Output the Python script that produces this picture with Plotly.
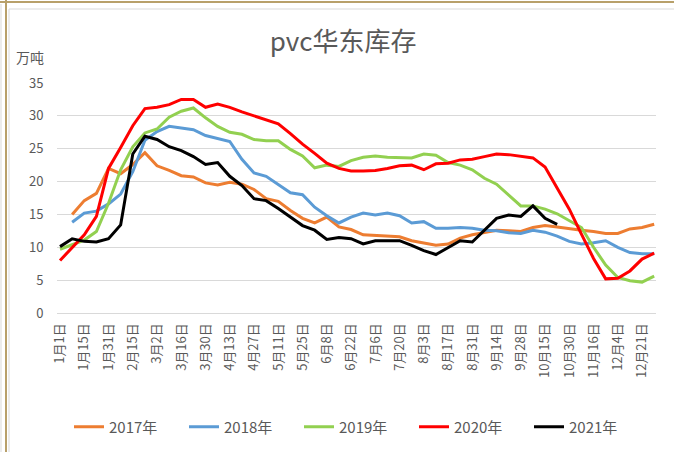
import plotly.graph_objects as go

tick_labels = ["1月1日", "1月15日", "1月31日", "2月15日", "3月2日", "3月16日", "3月30日",
               "4月13日", "4月27日", "5月11日", "5月25日", "6月8日", "6月22日", "7月6日",
               "7月20日", "8月3日", "8月17日", "8月31日", "9月14日", "9月28日", "10月15日",
               "10月30日", "11月16日", "12月4日", "12月21日"]

y2017 = [None, 15.0, 17.1, 18.2, 22.0, 21.2, 22.6, 24.4, 22.4, 21.7,
         20.9, 20.7, 19.8, 19.5, 19.9, 19.6, 18.8, 17.4, 17.0, 15.6,
         14.4, 13.7, 14.6, 13.1, 12.7, 11.9, 11.8, 11.8, 11.6, 11.0,
         10.7, 10.3, 10.5, 11.4, 11.9, 12.3, 12.6, 12.5, 12.4, 13.0,
         13.3, 13.1, 12.8, 12.6, 12.4, 12.1, 12.1, 12.8, 13.0, 13.5]
y2018 = [None, 13.8, 15.2, 15.5, 16.6, 18.1, 21.5, 26.3, 27.6, 28.4,
         28.2, 27.9, 27.0, 26.5, 26.1, 23.4, 21.3, 20.8, 19.5, 18.3,
         18.0, 16.1, 14.8, 13.7, 14.6, 15.2, 14.9, 15.2, 14.8, 13.7,
         13.9, 12.9, 12.9, 13.0, 12.9, 12.6, 12.5, 12.2, 12.1, 12.6,
         12.3, 11.7, 10.9, 10.5, 10.7, 11.0, 10.0, 9.2, 9.0, 9.0]
y2019 = [9.7, 10.4, 11.1, 12.4, 16.7, 21.8, 25.3, 27.4, 28.0, 29.8,
         30.7, 31.2, 29.7, 28.4, 27.5, 27.2, 26.4, 26.2, 26.2, 24.9,
         23.9, 22.1, 22.5, 22.3, 23.2, 23.7, 23.9, 23.7, 23.6, 23.6,
         24.2, 24.0, 22.9, 22.5, 21.8, 20.5, 19.6, 18.0, 16.3, 16.3,
         15.8, 15.1, 14.1, 13.0, 10.0, 7.3, 5.4, 4.9, 4.7, 5.6]
y2020 = [8.0, 10.0, 11.9, 14.7, 22.0, 25.2, 28.5, 31.1, 31.3, 31.7,
         32.5, 32.5, 31.3, 31.8, 31.3, 30.6, 30.0, 29.5, 28.8, 27.3,
         25.7, 24.3, 22.8, 22.0, 21.6, 21.6, 21.7, 22.0, 22.4, 22.5,
         21.8, 22.7, 22.8, 23.3, 23.4, 23.8, 24.2, 24.1, 23.9, 23.6,
         22.2, 19.0, 15.8, 12.0, 8.3, 5.2, 5.3, 6.4, 8.2, 9.1]
y2021 = [10.1, 11.3, 10.9, 10.8, 11.3, 13.4, 24.2, 26.9, 26.4, 25.3,
         24.7, 23.8, 22.6, 22.9, 20.8, 19.4, 17.4, 17.1, 15.9, 14.6,
         13.3, 12.6, 11.2, 11.5, 11.3, 10.5, 11.0, 11.0, 11.0, 10.3,
         9.5, 8.9, 10.0, 11.0, 10.8, 12.6, 14.4, 14.9, 14.7, 16.3,
         14.4, 13.5]

series = [("2017年", y2017, "#ED7D31"),
          ("2018年", y2018, "#5B9BD5"),
          ("2019年", y2019, "#92D050"),
          ("2020年", y2020, "#FF0000"),
          ("2021年", y2021, "#000000")]

FONT = "Noto Sans CJK SC, Noto Sans, sans-serif"
TXT = "#595959"

fig = go.Figure()
for name, vals, color in series:
    fig.add_trace(go.Scatter(
        x=list(range(len(vals))), y=vals, name=name, mode="lines",
        line=dict(color=color, width=3), connectgaps=False))

fig.update_layout(
    width=674, height=452,
    margin=dict(l=57, r=18, t=83, b=139, autoexpand=False),
    paper_bgcolor="white", plot_bgcolor="white",
    font=dict(family=FONT, color=TXT, size=13),
    showlegend=True,
    title=dict(text="pvc华东库存", x=0.509, xanchor="center", y=0.907, yanchor="middle",
               font=dict(family=FONT, size=26, color=TXT)),
    legend=dict(orientation="h", x=0.5, xanchor="center", y=-0.496, yanchor="middle",
                font=dict(family=FONT, size=15, color=TXT),
                entrywidth=70, entrywidthmode="pixels", itemwidth=30),
)
fig.update_xaxes(range=[-0.25, 49.15], tickmode="array", automargin=False,
                 tickvals=[2 * k for k in range(len(tick_labels))], ticktext=tick_labels,
                 tickangle=-90, showgrid=False, zeroline=False, showline=False,
                 ticks="outside", ticklen=4, tickcolor="rgba(0,0,0,0)",
                 tickfont=dict(family=FONT, size=13, color=TXT))
fig.update_yaxes(range=[0, 35], dtick=5, tick0=0, showgrid=True, gridcolor="#D9D9D9",
                 gridwidth=1, zeroline=True, zerolinecolor="#D9D9D9", zerolinewidth=1,
                 showline=False, ticks="outside", ticklen=10, tickcolor="rgba(0,0,0,0)",
                 automargin=False, tickfont=dict(family=FONT, size=13, color=TXT))

fig.add_annotation(text="万吨", xref="paper", yref="paper", x=-0.045, y=1.113,
                   xanchor="center", yanchor="middle",
                   showarrow=False, font=dict(family=FONT, size=14, color=TXT))

# window / chart frame lines
tan = "#B8A06A"
grey = "#D9D9D9"
def px_x(p):
    return (p - 57) / 599
def px_y(p):
    return (313 - p) / 230
fig.add_shape(type="line", xref="paper", yref="paper", x0=px_x(0), x1=px_x(674),
              y0=px_y(2), y1=px_y(2), line=dict(color=tan, width=2))
fig.add_shape(type="line", xref="paper", yref="paper", x0=px_x(6), x1=px_x(6),
              y0=px_y(0), y1=px_y(452), line=dict(color=tan, width=2))
fig.add_shape(type="line", xref="paper", yref="paper", x0=px_x(9), x1=px_x(674),
              y0=px_y(9), y1=px_y(9), line=dict(color=grey, width=1))
fig.add_shape(type="line", xref="paper", yref="paper", x0=px_x(9), x1=px_x(9),
              y0=px_y(9), y1=px_y(452), line=dict(color=grey, width=1))
fig.add_shape(type="line", xref="paper", yref="paper", x0=px_x(1), x1=px_x(1),
              y0=px_y(4), y1=px_y(452), line=dict(color=grey, width=1))

fig.write_html("out.html", config={"displayModeBar": False},
               post_script="document.body.style.margin='0';document.body.style.overflow='hidden';")
